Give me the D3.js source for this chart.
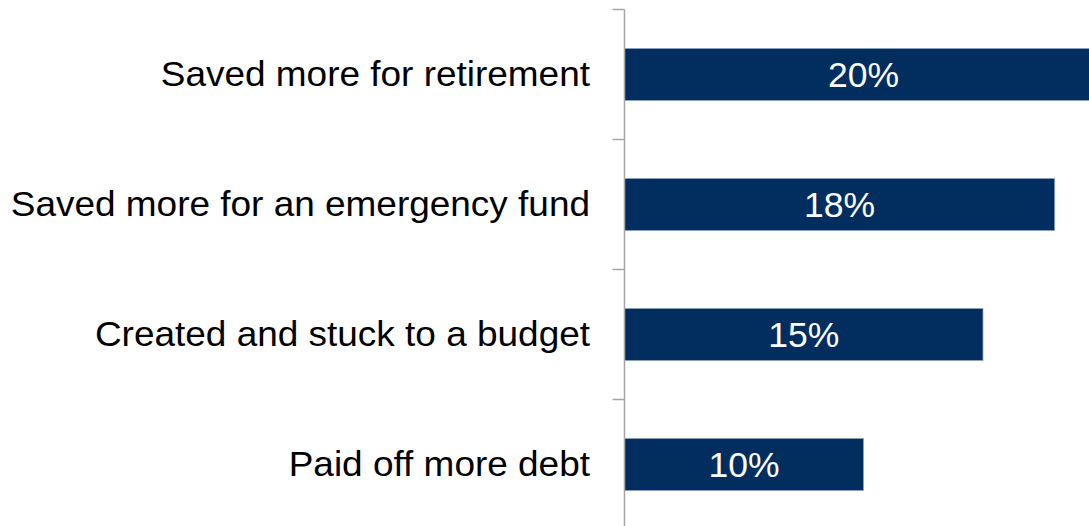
<!DOCTYPE html>
<html>
<head>
<meta charset="utf-8">
<script src="https://cdn.jsdelivr.net/npm/d3@7"></script>
<style>
  html, body { margin: 0; padding: 0; background: #fff; overflow: hidden; }
  svg { display: block; }
  text { font-family: "Liberation Sans", Arial, sans-serif; }
</style>
</head>
<body>
<svg id="chart" width="1089" height="526"></svg>
<script>
// Share of respondents by financial action taken
const categories = [
  "Saved more for retirement",
  "Saved more for an emergency fund",
  "Created and stuck to a budget",
  "Paid off more debt"
];
const values = [20, 18, 15, 10];
const valueLabels = ["20%", "18%", "15%", "10%"];

const svg = d3.select("#chart");
const axisX = 624.5;

const x = d3.scaleLinear().domain([0, 20]).range([axisX, axisX + 478]);
const y = d3.scaleBand().domain(categories).range([9.5, 529.5]).paddingInner(0.6).paddingOuter(0.3);
const yBounds = d3.scaleLinear().domain([0, categories.length]).range([9.5, 529.5]);

// bars
svg.append("g").selectAll("rect")
  .data(categories)
  .join("rect")
  .attr("x", x(0))
  .attr("y", d => y(d))
  .attr("width", (d, i) => x(values[i]) - x(0))
  .attr("height", y.bandwidth())
  .attr("fill", "#022e5f")
  .attr("stroke", "#8fa2bd")
  .attr("stroke-width", 0.8);

// value labels centred in bars
svg.append("g").selectAll("text")
  .data(categories)
  .join("text")
  .attr("x", (d, i) => (x(0) + x(values[i])) / 2)
  .attr("y", d => y(d) + y.bandwidth() / 2 + 12.5)
  .attr("text-anchor", "middle")
  .attr("fill", "#fff")
  .attr("font-size", 35.5)
  .text((d, i) => valueLabels[i]);

// category axis with boundary ticks
const axis = svg.append("g");
axis.append("line")
  .attr("x1", axisX).attr("x2", axisX)
  .attr("y1", yBounds(0)).attr("y2", yBounds(categories.length))
  .attr("stroke", "#a6a6a6").attr("stroke-width", 1.5);
axis.selectAll("line.tick")
  .data(d3.range(categories.length + 1))
  .join("line")
  .attr("class", "tick")
  .attr("x1", axisX - 12).attr("x2", axisX)
  .attr("y1", d => yBounds(d)).attr("y2", d => yBounds(d))
  .attr("stroke", "#a6a6a6").attr("stroke-width", 1.5);

// category labels, set slightly wide
axis.selectAll("text")
  .data(categories)
  .join("text")
  .attr("transform", d => `translate(590,${y(d) + y.bandwidth() / 2 + 11.5}) scale(1.056,1)`)
  .attr("text-anchor", "end")
  .attr("fill", "#000")
  .attr("font-size", 35)
  .text(d => d);
</script>
</body>
</html>
